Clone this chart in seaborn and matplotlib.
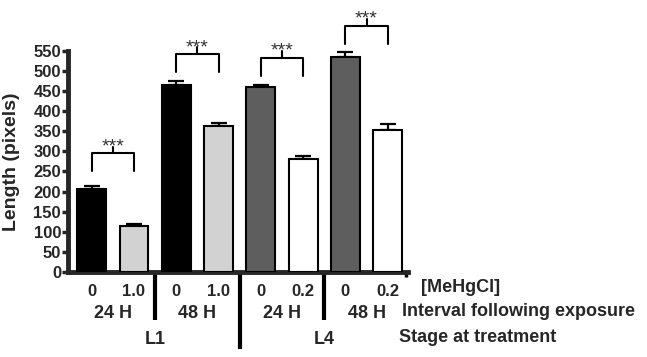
import numpy as np
import pandas as pd
import matplotlib
matplotlib.use("Agg")
import matplotlib.pyplot as plt
import seaborn as sns

# values
conditions = ["L1 24H 0", "L1 24H 1.0", "L1 48H 0", "L1 48H 1.0",
              "L4 24H 0", "L4 24H 0.2", "L4 48H 0", "L4 48H 0.2"]
doses = ["0", "1.0", "0", "1.0", "0", "0.2", "0", "0.2"]
intervals = ["24 H", "48 H", "24 H", "48 H"]
stages = ["L1", "L4"]
mean_length = [207, 115, 465, 363, 460, 280, 534, 354]
sem_length = [7, 5, 10, 7, 6, 8, 14, 15]
bar_colors = ["#000000", "#d2d2d2", "#000000", "#d2d2d2",
              "#5e5e5e", "#ffffff", "#5e5e5e", "#ffffff"]
bracket_y = [295, 542, 533, 612]
bracket_text = ["***", "***", "***", "***"]

df = pd.DataFrame({"cond": conditions, "length": mean_length})

sns.set_style("ticks")
plt.rcParams['font.family'] = ['Liberation Sans', 'DejaVu Sans']

fig = plt.figure(figsize=(6.47, 3.57), dpi=100)
ax = fig.add_axes([68 / 647, 85 / 357, 340 / 647, 267 / 357])

sns.barplot(data=df, x="cond", y="length", hue="cond", order=conditions,
            hue_order=conditions, palette=bar_colors, edgecolor="black",
            linewidth=1.5, errorbar=None, width=0.68, legend=False,
            saturation=1, ax=ax, zorder=3)

# upper error bars only
ax.errorbar(range(len(conditions)), mean_length,
            yerr=[np.zeros(len(sem_length)), sem_length], fmt="none",
            ecolor="black", elinewidth=1.6, capsize=5.5, capthick=1.6, zorder=2)

ax.set_xlim(-0.56, 7.48)
ax.set_ylim(0, 664)
ax.set_yticks(range(0, 551, 50))
ax.spines["left"].set_bounds(0, 550)
ax.spines["right"].set_visible(False)
ax.spines["top"].set_visible(False)
ax.spines["left"].set_linewidth(3.5)
ax.spines["bottom"].set_linewidth(3.5)
ax.tick_params(axis="y", length=4, width=2.5, pad=1, labelsize=12)
for lab in ax.get_yticklabels():
    lab.set_fontweight("bold")
ax.set_xticks([])
ax.set_xlabel("")
ax.set_ylabel("Length (pixels)", fontsize=14, fontweight="bold")
ax.yaxis.set_label_coords(-0.14, 275 / 664)

# significance brackets
for k, y in enumerate(bracket_y):
    x0, x1 = 2 * k, 2 * k + 1
    ax.plot([x0, x0, x1, x1], [y - 45, y, y, y - 45], color="black", lw=1.5,
            clip_on=False)
    ax.plot([(x0 + x1) / 2] * 2, [y, y + 17], color="black", lw=1.5,
            clip_on=False)
    ax.text((x0 + x1) / 2, y + 5, bracket_text[k], ha="center",
            va="baseline", fontsize=14, color="#333333")

# category labels under the axis
tr = ax.get_xaxis_transform()
for i, d in enumerate(doses):
    ax.text(i, -0.072, d, transform=tr, ha="center", va="center",
            fontsize=12, fontweight="bold")
for j, lab in enumerate(intervals):
    ax.text(2 * j + 0.5, -0.154, lab, transform=tr, ha="center",
            va="center", fontsize=13, fontweight="bold")
for j, lab in enumerate(stages):
    ax.text(4 * j + 1.5, -0.252, lab, transform=tr, ha="center",
            va="center", fontsize=13, fontweight="bold")

# separators and end tick
for xs, yb in [(1.5, -0.18), (3.5, -0.29), (5.5, -0.18)]:
    ax.plot([xs, xs], [0, yb], transform=tr, color="black", lw=3,
            clip_on=False, solid_capstyle="butt")
ax.plot([7.44, 7.44], [0, -0.02], transform=tr, color="black", lw=2.5,
        clip_on=False, solid_capstyle="butt")

fig.text(421 / 647, 1 - 288 / 357, "[MeHgCl]", ha="left", va="center",
         fontsize=13, fontweight="bold")
fig.text(402 / 647, 1 - 312 / 357, "Interval following exposure", ha="left",
         va="center", fontsize=13, fontweight="bold")
fig.text(399 / 647, 1 - 337 / 357, "Stage at treatment", ha="left",
         va="center", fontsize=13, fontweight="bold")

fig.savefig("out.png", dpi=100)
